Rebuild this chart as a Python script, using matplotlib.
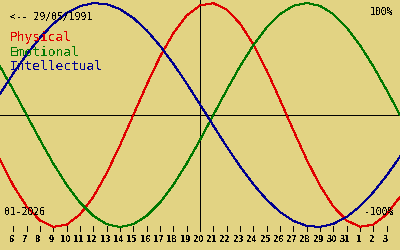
import matplotlib
matplotlib.use("Agg")
import matplotlib.pyplot as plt

# Biorhythm around 20/01/2026 for birth date 29/05/1991
birth_label = "<-- 29/05/1991"
month_label = "01-2026"
days = list(range(5, 36))  # 5 Jan .. 4 Feb (32 = 1 Feb)
centre_day = 20

physical = [-0.398, -0.631, -0.817, -0.942, -0.998, -0.979, -0.888, -0.731,
            -0.520, -0.270, 0.0, 0.270, 0.520, 0.731, 0.888, 0.979, 0.998,
            0.942, 0.817, 0.631, 0.398, 0.136, -0.136, -0.398, -0.631,
            -0.817, -0.942, -0.998, -0.979, -0.888, -0.731]
emotional = [0.434, 0.2225, 0.0, -0.2225, -0.434, -0.6235, -0.782, -0.901,
             -0.975, -1.0, -0.975, -0.901, -0.782, -0.6235, -0.434, -0.2225,
             0.0, 0.2225, 0.434, 0.6235, 0.782, 0.901, 0.975, 1.0, 0.975,
             0.901, 0.782, 0.6235, 0.434, 0.2225, 0.0]
intellectual = [0.189, 0.372, 0.541, 0.690, 0.815, 0.910, 0.972, 0.999, 0.990,
                0.945, 0.866, 0.756, 0.618, 0.458, 0.282, 0.095, -0.095,
                -0.282, -0.458, -0.618, -0.756, -0.866, -0.945, -0.990,
                -0.999, -0.972, -0.910, -0.815, -0.690, -0.541, -0.372]

tick_days = list(range(6, 35))
tick_labels = [str(d if d <= 31 else d - 31) for d in tick_days]

series = [("Physical", physical, "#e00000"),
          ("Emotional", emotional, "#007800"),
          ("Intellectual", intellectual, "#000090")]

bg = "#e2d383"
plt.rcParams["text.antialiased"] = False

fig = plt.figure(figsize=(4, 2.5), dpi=100, facecolor=bg)
ax = fig.add_axes([0, 0, 1, 1], facecolor=bg)
ax.set_axis_off()

# pixel y = 115 - 112 * value
def py(pix):
    return (115 - pix) / 112.0

ax.set_xlim(5, 35)
ax.set_ylim(py(250), py(0))

px = 0.72  # one pixel
ax.axhline(0, color="black", lw=px, antialiased=False)
ax.vlines(centre_day, py(230), py(0), color="black", lw=px, antialiased=False)
ax.vlines(tick_days, py(231), py(226), color="black", lw=px, antialiased=False)

for name, vals, col in series:
    ax.plot(days, vals, color=col, lw=px, antialiased=False)

for d, lab in zip(tick_days, tick_labels):
    ax.text(d - 0.12, py(239), lab, ha="center", va="center",
            fontsize=5.5, fontweight="bold", family="DejaVu Sans")

mono = dict(family="DejaVu Sans Mono", fontsize=7, color="black", va="center")
fig.text(10 / 400, 1 - 17 / 250, birth_label, ha="left", **mono)
fig.text(393 / 400, 1 - 12 / 250, "100%", ha="right", **mono)
fig.text(394 / 400, 1 - 212 / 250, "-100%", ha="right", **mono)
fig.text(4 / 400, 1 - 212 / 250, month_label, ha="left", **mono)

for i, (name, vals, col) in enumerate(series):
    fig.text(10 / 400, 1 - (37 + 15 * i) / 250, name, ha="left", va="center",
             family="DejaVu Sans Mono", fontsize=9.3, color=col)

fig.savefig("out.png", dpi=100, facecolor=bg)
